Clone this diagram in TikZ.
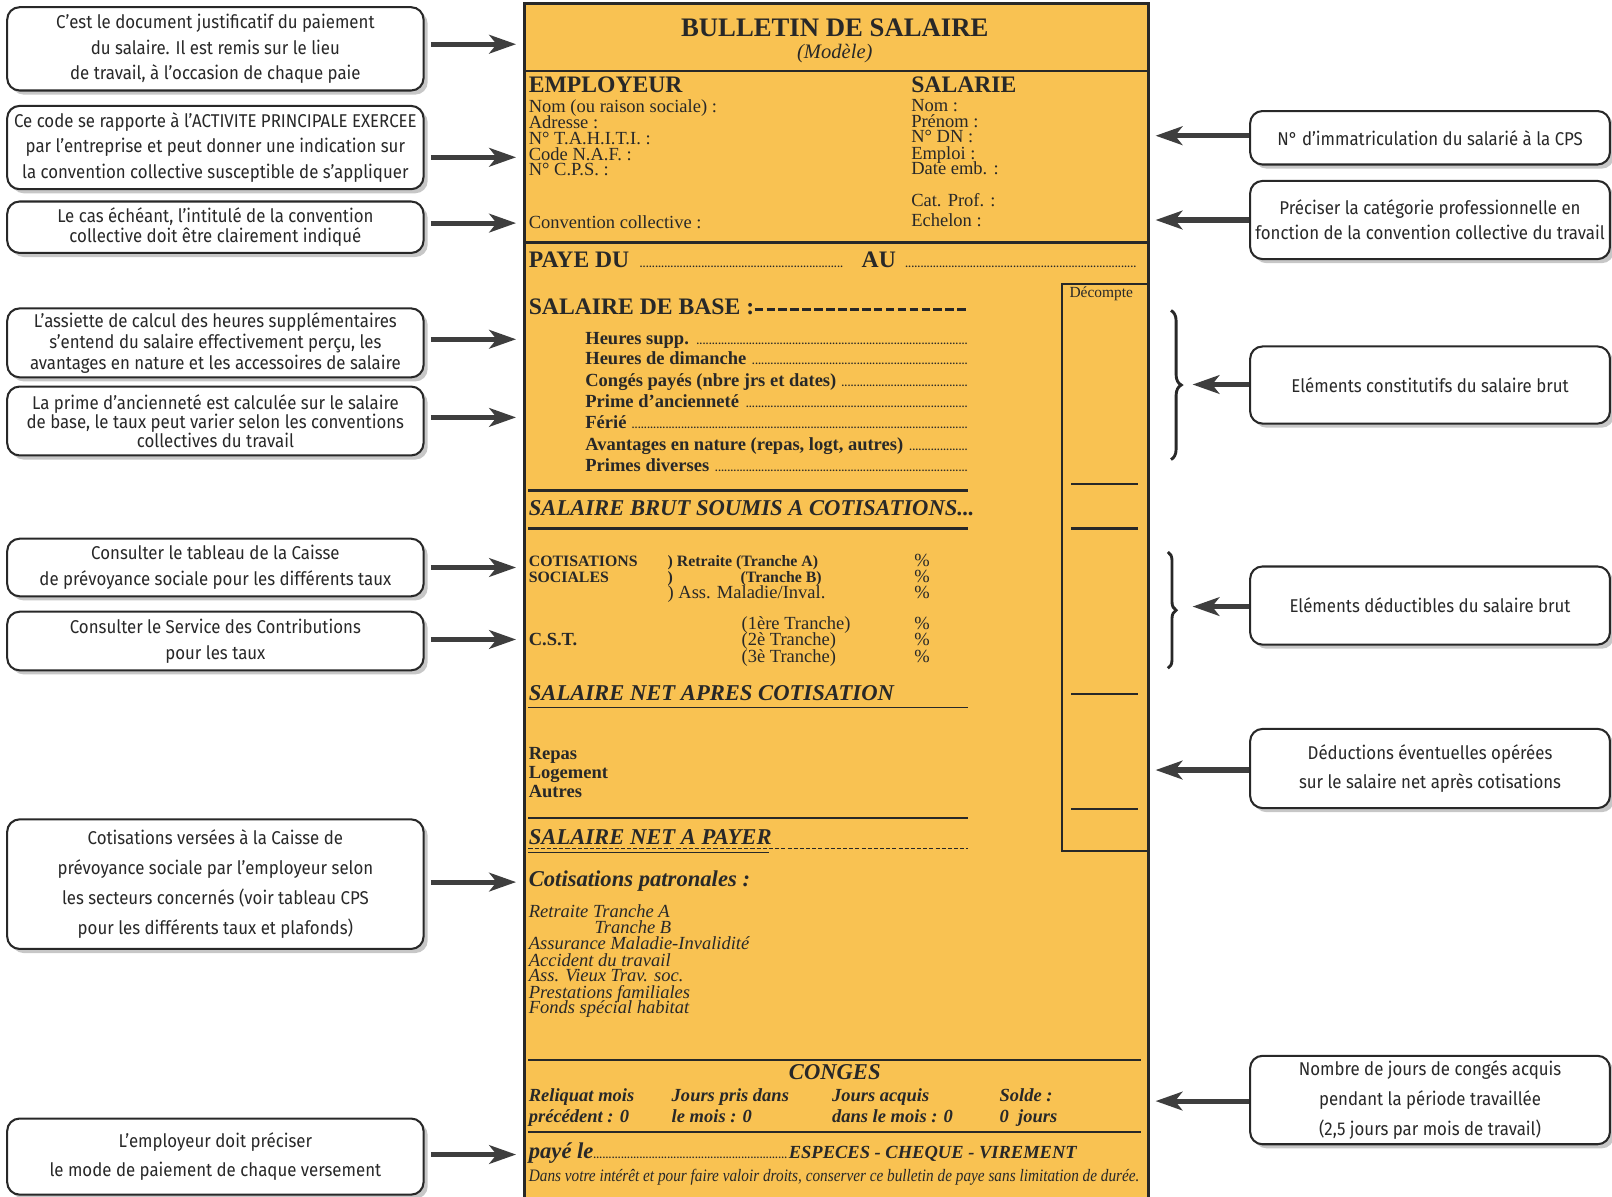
\documentclass[tikz,border=0pt]{standalone}
\usepackage{fontspec}
\usepackage{graphicx}
\setmainfont{Liberation Serif}
\newfontfamily\notefont{Fira Sans}[FakeStretch=0.91]
\usetikzlibrary{arrows.meta, positioning, shadows, decorations.pathreplacing}
\definecolor{formbg}{RGB}{249,194,82}
\definecolor{ink}{RGB}{40,40,40}
\definecolor{arrowgray}{RGB}{62,62,62}
\newcommand{\fs}[1]{\fontsize{#1}{#1}\selectfont}
\newcommand{\lead}{\leaders\hbox to 1.5pt{\hss\fontsize{5}{5}\selectfont.\hss}\hfill}

\begin{document}
\begin{tikzpicture}[x=0.5pt, y=-0.5pt, >={Stealth[length=13pt, width=9pt, inset=3.5pt]},
  note/.style={draw=ink, line width=1pt, rounded corners=6pt, fill=white, align=center,
    inner sep=0pt, text=ink, font=\notefont\fontsize{9}{12.5}\selectfont,
    drop shadow={shadow xshift=2pt, shadow yshift=-2pt, fill=black!22, opacity=1}},
  leading/.style={font=\notefont\fontsize{9}{#1}\selectfont},
  lnote/.style={note, minimum width=202.5pt},
  rnote/.style={note, minimum width=175pt},
  link/.style={->, draw=arrowgray, line width=2.5pt},
  ft/.style={inner sep=0pt, anchor=west, text=ink, text height=0.7em, text depth=0.2em},
  rule/.style={draw=ink, line width=1.1pt}]
  \useasboundingbox (0,0) rectangle (1568,1164);

  % the pay slip
  \fill[formbg] (510,3) rectangle (1117,1164);
  \draw[ink, line width=1.5pt] (510,1164) -- (510,3) -- (1117,3) -- (1117,1164);
  \draw[ink, line width=1.2pt] (510,69) -- (1117,69) (510,236) -- (1117,236);
  \draw[rule] (1117,276) -- (1033,276) -- (1033,828) -- (1117,828);
  \foreach \y in {471,514,675,787}
    \draw[rule] (1042,\y) -- (1107,\y);
  \draw[rule] (514,477) -- (942,477) (514,514) -- (942,514) (514,796) -- (942,796);
  \draw[ink, line width=0.6pt] (514,688) -- (942,688) (514,829) -- (748,829);
  \draw[ink, line width=0.6pt, dash pattern=on 2pt off 1pt] (514,825) -- (942,825);
  \draw[ink, line width=0.8pt] (514,1031) -- (1110,1031) (514,1101) -- (1110,1101);

  \node[inner sep=0pt, text=ink, font=\bfseries\fs{13}] (title) at (812,27) {BULLETIN DE SALAIRE};
  \node[inner sep=0pt, text=ink, font=\itshape\fs{10}, below=3pt of title] (model) {(Modèle)};

  \node[ft, font=\bfseries\fs{11.5}] (emp) at (514,85) {EMPLOYEUR};
  \foreach \y/\t in {104/Nom (ou raison sociale) :, 120/Adresse :, 136/N° T.A.H.I.T.I. :,
      151/Code N.A.F. :, 166/N° C.P.S. :, 217/Convention collective :}
    \node[ft, font=\fs{9}] (emp\y) at (514,\y) {\t};
  \node[ft, font=\bfseries\fs{11.5}] (sal) at (886,85) {SALARIE};
  \foreach \y/\t in {103/Nom :, 119/Prénom :, 134/N° DN :, 150/Emploi :, 165/Date emb. :,
      196/Cat. Prof. :, 215/Echelon :}
    \node[ft, font=\fs{9}] (sal\y) at (886,\y) {\t};

  \node[ft, font=\bfseries\fs{11.5}] (paye) at (514,255)
    {\hbox to 295.5pt{PAYE DU\hspace{5pt}\hbox to 100pt{\lead}\hspace{8pt}AU\hspace{4pt}\lead}};
  \node[ft, font=\fs{7.5}] (dec) at (1040,284) {Décompte};

  \node[ft, font=\bfseries\fs{11.5}] (base) at (514,301) {SALAIRE DE BASE :};
  \draw[ink, line width=1.4pt, dash pattern=on 4.2pt off 1.6pt] (base.east) -- (942,301);
  \foreach \y/\t in {330/Heures supp., 350/Heures de dimanche, 371/Congés payés (nbre jrs et dates),
      391/Prime d’ancienneté, 412/Férié, 433/{Avantages en nature (repas, logt, autres)},
      454/Primes diverses}
    \node[ft, font=\bfseries\fs{9}] (item\y) at (569,\y) {\hbox to 186.5pt{\t\ \lead}};

  \node[ft, font=\bfseries\itshape\fs{11}] (brut) at (514,496) {SALAIRE BRUT SOUMIS A COTISATIONS...};

  \node[ft, font=\bfseries\fs{7.7}] (cot) at (514,546) {COTISATIONS};
  \node[ft, font=\bfseries\fs{7.7}] (soc) at (514,562) {SOCIALES};
  \node[ft, font=\bfseries\fs{7.7}] (retA) at (649,546) {) Retraite (Tranche A)};
  \node[ft, font=\bfseries\fs{7.7}] (parB) at (649,562) {)};
  \node[ft, font=\bfseries\fs{7.7}] (retB) at (720,562) {(Tranche B)};
  \node[ft, font=\fs{9}] (ass) at (649,577) {) Ass. Maladie/Inval.};
  \foreach \y/\t in {607/(1ère Tranche), 623/(2è Tranche), 639/(3è Tranche)}
    \node[ft, font=\fs{9}] (tr\y) at (721,\y) {\t};
  \foreach \y in {546,562,577,607,623,639}
    \node[ft, font=\fs{9}] (pc\y) at (889,\y) {\%};
  \node[ft, font=\bfseries\fs{9}] (cst) at (514,623) {C.S.T.};

  \node[ft, font=\bfseries\itshape\fs{11}] (net) at (514,676) {SALAIRE NET APRES COTISATION};
  \foreach \y/\t in {734/Repas, 752/Logement, 771/Autres}
    \node[ft, font=\bfseries\fs{9}] (ded\y) at (514,\y) {\t};
  \node[ft, font=\bfseries\itshape\fs{11}] (pay) at (514,816) {SALAIRE NET A PAYER};

  \node[ft, font=\bfseries\itshape\fs{11}] (pat) at (514,857) {Cotisations patronales :};
  \foreach \y/\t in {887/Retraite Tranche A, 919/Assurance Maladie-Invalidité, 935/Accident du travail,
      950/Ass. Vieux Trav. soc., 966/Prestations familiales, 981/Fonds spécial habitat}
    \node[ft, font=\itshape\fs{9}] (pat\y) at (514,\y) {\t};
  \node[ft, font=\itshape\fs{9}] (pat903) at (578,903) {Tranche B};

  \node[inner sep=0pt, text=ink, font=\bfseries\itshape\fs{11}] (conges) at (812,1043) {CONGES};
  \foreach \x/\a/\b in {514/Reliquat mois/précédent : 0, 653/Jours pris dans/le mois : 0,
      809/Jours acquis/dans le mois : 0, 972/Solde :/0~~jours} {
    \node[ft, font=\bfseries\itshape\fs{9}] (cg\x a) at (\x,1066) {\a};
    \node[ft, font=\bfseries\itshape\fs{9}] (cg\x b) at (\x,1087) {\b};
  }
  \node[ft, font=\bfseries\itshape\fs{11}] (paid) at (514,1122)
    {payé le\hbox to 95pt{\lead}{\fs{9}ESPECES - CHEQUE - VIREMENT}};
  \node[ft, font=\itshape\fs{8.5}] (keep) at (514,1144)
    {\resizebox{297pt}{\height}{Dans votre intérêt et pour faire valoir droits, conserver ce bulletin de paye sans limitation de durée.}};

  % explanations on the left
  \node[lnote, minimum height=40.5pt] (n1) at (209.5,47.5) {C’est le document justificatif du paiement\\du salaire. Il est remis sur le lieu\\de travail, à l’occasion de chaque paie};
  \node[lnote, minimum height=40.5pt] (n2) at (209.5,143.5) {Ce code se rapporte à l’ACTIVITE PRINCIPALE EXERCEE\\par l’entreprise et peut donner une indication sur\\la convention collective susceptible de s’appliquer};
  \node[lnote, leading=9.5, minimum height=25pt] (n3) at (209.5,221) {Le cas échéant, l’intitulé de la convention\\collective doit être clairement indiqué};
  \node[lnote, leading=8.5, minimum height=33.5pt] (n4) at (209.5,333.5) {L’assiette de calcul des heures supplémentaires\\s’entend du salaire effectivement perçu, les\\avantages en nature et les accessoires de salaire};
  \node[lnote, leading=9.2, minimum height=33.5pt] (n5) at (209.5,409.5) {La prime d’ancienneté est calculée sur le salaire\\de base, le taux peut varier selon les conventions\\collectives du travail};
  \node[lnote, minimum height=28pt] (n6) at (209.5,552) {Consulter le tableau de la Caisse\\de prévoyance sociale pour les différents taux};
  \node[lnote, minimum height=28.5pt] (n7) at (209.5,623.5) {Consulter le Service des Contributions\\pour les taux};
  \node[lnote, leading=14.5, minimum height=63pt] (n8) at (209.5,860) {Cotisations versées à la Caisse de\\prévoyance sociale par l’employeur selon\\les secteurs concernés (voir tableau CPS\\pour les différents taux et plafonds)};
  \node[lnote, leading=14.5, minimum height=37pt] (n9) at (209.5,1125) {L’employeur doit préciser\\le mode de paiement de chaque versement};

  % explanations on the right
  \node[rnote, minimum height=26pt] (r1) at (1391,134) {N° d’immatriculation du salarié à la CPS};
  \node[rnote, leading=12, minimum height=38pt] (r2) at (1391,214) {Préciser la catégorie professionnelle en\\fonction de la convention collective du travail};
  \node[rnote, minimum height=37.5pt] (r3) at (1391,374.5) {Eléments constitutifs du salaire brut};
  \node[rnote, minimum height=38pt] (r4) at (1391,589) {Eléments déductibles du salaire brut};
  \node[rnote, leading=14.5, minimum height=38.5pt] (r5) at (1391,747.5) {Déductions éventuelles opérées\\sur le salaire net après cotisations};
  \node[rnote, leading=14.5, minimum height=43pt] (r6) at (1391,1070) {Nombre de jours de congés acquis\\pendant la période travaillée\\(2,5 jours par mois de travail)};

  % braces
  \draw[ink, line width=1.4pt, decorate, decoration={brace, amplitude=5pt}] (1139,302) -- (1139,447);
  \draw[ink, line width=1.4pt, decorate, decoration={brace, amplitude=4pt}] (1136,537) -- (1136,650);

  % arrows
  \foreach \n/\y in {n1/43, n2/153, n3/217, n4/330, n5/406, n6/552, n7/622, n8/858, n9/1123} {
    \coordinate (\n tip) at (502,\y);
    \draw[link, shorten <=3pt] (\n.east |- \n tip) -- (\n tip);
  }
  \foreach \n/\x/\y in {r1/1124/132, r2/1124/214, r3/1160/374, r4/1160/590, r5/1124/749, r6/1124/1071} {
    \coordinate (\n tip) at (\x,\y);
    \draw[link] (\n.west |- \n tip) -- (\n tip);
  }
\end{tikzpicture}
\end{document}
